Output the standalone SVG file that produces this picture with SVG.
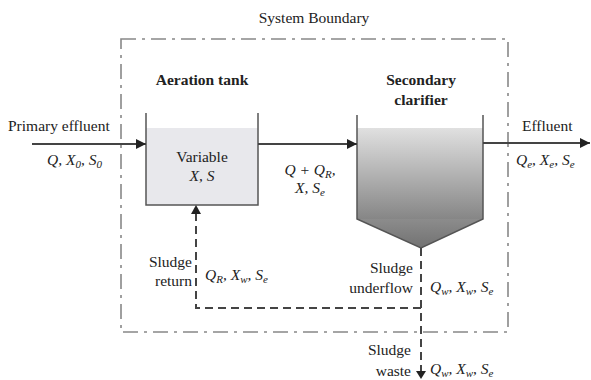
<svg xmlns="http://www.w3.org/2000/svg" width="591" height="380" viewBox="0 0 591 380">
<defs>
<linearGradient id="clar" x1="0" y1="0" x2="0" y2="1">
<stop offset="0" stop-color="#e0e0e0"/>
<stop offset="1" stop-color="#868686"/>
</linearGradient>
<linearGradient id="cone" x1="0" y1="0" x2="0" y2="1">
<stop offset="0" stop-color="#8c8c8c"/>
<stop offset="1" stop-color="#727272"/>
</linearGradient>
<marker id="ah" viewBox="0 0 10 10" refX="10" refY="5" markerWidth="10" markerHeight="10" markerUnits="userSpaceOnUse" orient="auto">
<path d="M0,0 L10,5 L0,10 z" fill="#222"/>
</marker>
</defs>
<style>
text{font-family:"Liberation Serif","DejaVu Serif",serif;font-size:15.5px;fill:#222}
.b{font-weight:bold}
.i{font-style:italic}
.m{text-anchor:middle}
.r{text-anchor:end}
.s{font-size:11px}
.wall{fill:none;stroke:#555;stroke-width:1.5}
.flow{fill:none;stroke:#444;stroke-width:2}
.dash{fill:none;stroke:#444;stroke-width:2;stroke-dasharray:8 5}
.bound{fill:none;stroke:#888;stroke-width:1.6;stroke-dasharray:15 6 3 6}
</style>
<rect width="591" height="380" fill="#fff"/>

<g id="boundary">
<rect class="bound" x="121" y="39" width="387" height="293"/>
<text class="m" x="314" y="23">System Boundary</text>
</g>

<g id="aeration-tank">
<rect x="146" y="128" width="112" height="77" fill="#e8e8ec"/>
<path class="wall" d="M146,113 V205 H258 V113"/>
<text class="b m" x="202" y="85">Aeration tank</text>
<text class="m" x="202" y="162">Variable</text>
<text class="i m" x="202" y="181">X, S</text>
</g>

<g id="secondary-clarifier">
<rect x="357" y="128" width="126" height="91" fill="url(#clar)"/>
<path d="M357,219 H483 L421,248 Z" fill="url(#cone)"/>
<path class="wall" d="M357,115 V219 L421,248 L483,219 V115"/>
<text class="b m" x="421" y="85">Secondary</text>
<text class="b m" x="421" y="105">clarifier</text>
</g>

<g id="connectors">
<line class="flow" x1="32" y1="144" x2="146" y2="144" marker-end="url(#ah)"/>
<line class="flow" x1="258" y1="144" x2="357" y2="144" marker-end="url(#ah)"/>
<line class="flow" x1="483" y1="143" x2="590" y2="143" marker-end="url(#ah)"/>
<path class="dash" d="M421,248 V372"/>
<path d="M416,371 L421,379 L426,371 Z" fill="#222"/>
<path class="dash" d="M421,308 H196 V214"/>
<path d="M191,214 L196,205 L201,214 Z" fill="#222"/>
</g>

<g id="labels">
<text x="8" y="131">Primary effluent</text>
<text class="i" x="47" y="165">Q, X<tspan class="s" dy="3">0</tspan><tspan dy="-3">, S</tspan><tspan class="s" dy="3">0</tspan></text>
<text x="522" y="131">Effluent</text>
<text class="i" x="516" y="165">Q<tspan class="s" dy="3">e</tspan><tspan dy="-3">, X</tspan><tspan class="s" dy="3">e</tspan><tspan dy="-3">, S</tspan><tspan class="s" dy="3">e</tspan></text>
<text class="i m" x="310" y="175">Q + Q<tspan class="s" dy="3">R</tspan><tspan dy="-3">,</tspan></text>
<text class="i m" x="310" y="193">X, S<tspan class="s" dy="3">e</tspan></text>
<text class="r" x="192" y="267">Sludge</text>
<text class="r" x="192" y="286">return</text>
<text class="i" x="205" y="280">Q<tspan class="s" dy="3">R</tspan><tspan dy="-3">, X</tspan><tspan class="s" dy="3">w</tspan><tspan dy="-3">, S</tspan><tspan class="s" dy="3">e</tspan></text>
<text class="r" x="413" y="273">Sludge</text>
<text class="r" x="413" y="293">underflow</text>
<text class="i" x="430" y="292">Q<tspan class="s" dy="3">w</tspan><tspan dy="-3">, X</tspan><tspan class="s" dy="3">w</tspan><tspan dy="-3">, S</tspan><tspan class="s" dy="3">e</tspan></text>
<text class="r" x="411" y="355">Sludge</text>
<text class="r" x="411" y="376">waste</text>
<text class="i" x="430" y="374">Q<tspan class="s" dy="3">w</tspan><tspan dy="-3">, X</tspan><tspan class="s" dy="3">w</tspan><tspan dy="-3">, S</tspan><tspan class="s" dy="3">e</tspan></text>
</g>
</svg>
